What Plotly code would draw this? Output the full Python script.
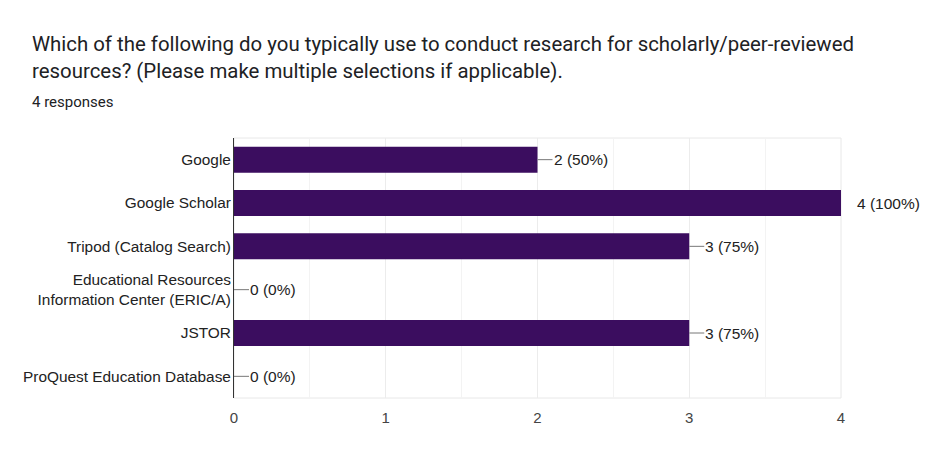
import plotly.graph_objects as go

categories = [
    "Google",
    "Google Scholar",
    "Tripod (Catalog Search)",
    "Educational Resources<br>Information Center (ERIC/A)",
    "JSTOR",
    "ProQuest Education Database",
]
counts = [2, 4, 3, 0, 3, 0]
total_responses = 4
x_ticks = [0, 1, 2, 3, 4]

title_text = ("Which of the following do you typically use to conduct research for scholarly/peer-reviewed"
              "<br>resources? (Please make multiple selections if applicable).")
subtitle_text = "4 responses"

BAR = "#3b0d5f"
FONT = "Liberation Sans, Arial, sans-serif"
TFONT = "Roboto, Liberation Sans, sans-serif"

# page body has an 8px margin, so figure coordinates = screen - 8
OFF = 8
W, H = 936 - OFF, 476 - OFF
L, T = 234 - OFF, 138 - OFF
R = W - (841 - OFF)
B = H - (398 - OFF)
PW, PH = W - L - R, H - T - B

labels = [f"{c} ({round(100 * c / total_responses)}%)" for c in counts]

fig = go.Figure()
fig.add_trace(go.Bar(
    x=counts, y=categories, orientation="h",
    marker=dict(color=BAR, line=dict(width=0)),
    width=0.6, hoverinfo="skip",
))

xmax = max(x_ticks)
for cat, val, lab in zip(categories, counts, labels):
    at_edge = val >= xmax
    lead = 15
    line_len = 3 if at_edge else lead
    fig.add_shape(type="line", xref="x", yref="y", xsizemode="pixel", xanchor=val,
                  x0=0, x1=line_len, y0=cat, y1=cat,
                  line=dict(color="#999999" if at_edge else "#777777", width=1), layer="above")
    fig.add_annotation(x=val, y=cat, xref="x", yref="y", text=lab, showarrow=False,
                       xanchor="left", xshift=lead - 1, font=dict(family=FONT, size=15.5, color="#222222"))

# plot frame (light)
fig.add_shape(type="rect", xref="paper", yref="paper", x0=0, x1=1, y0=0, y1=1,
              line=dict(color="#e8e8e8", width=1), layer="below")

tx = (30 - OFF - L) / PW
fig.add_annotation(text=title_text, xref="paper", yref="paper", x=tx, y=1 + (T - 22) / PH,
                   xanchor="left", yanchor="top", showarrow=False, align="left",
                   font=dict(family=TFONT, size=20.4, color="#202124"))
fig.add_annotation(text=subtitle_text, xref="paper", yref="paper", x=tx, y=1 + (T - 83) / PH,
                   xanchor="left", yanchor="top", showarrow=False, align="left",
                   font=dict(family=TFONT, size=15, color="#202124"))

fig.update_layout(
    width=W, height=H,
    paper_bgcolor="white", plot_bgcolor="white",
    margin=dict(l=L, r=R, t=T, b=B, autoexpand=False),
    showlegend=False,
)
fig.update_xaxes(
    range=[0, xmax], tickvals=x_ticks, ticktext=[str(t) for t in x_ticks],
    showgrid=True, gridcolor="#ececec", gridwidth=1,
    minor=dict(dtick=0.5, showgrid=True, gridcolor="#f3f3f3", gridwidth=1),
    zeroline=False, showline=False, ticks="",
    tickfont=dict(family=FONT, size=15, color="#444444"),
    ticklabelstandoff=9, fixedrange=True, automargin=False,
)
fig.update_yaxes(
    autorange="reversed", showgrid=False, zeroline=False,
    showline=True, linecolor="#333333", linewidth=1, ticks="",
    tickfont=dict(family=FONT, size=15.4, color="#222222"),
    ticklabelstandoff=-1, layer="above traces", automargin=False,
)

fig.write_html("out.html")
